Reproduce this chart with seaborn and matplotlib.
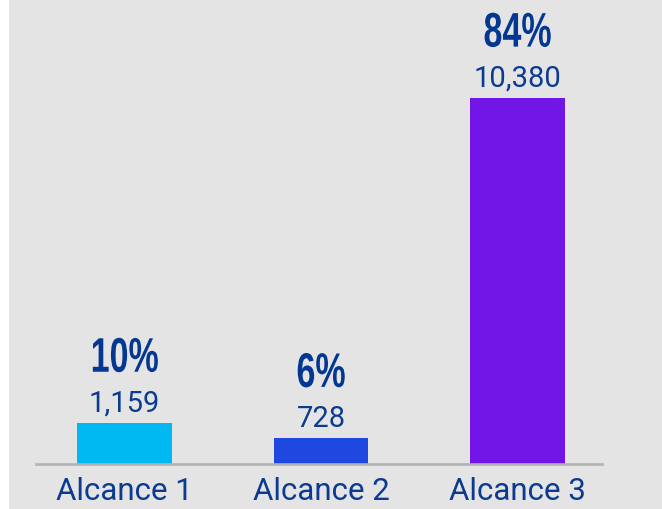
import matplotlib
matplotlib.use("Agg")
import matplotlib.pyplot as plt
from matplotlib.patches import Rectangle
from matplotlib.transforms import Affine2D
import matplotlib.patheffects as pe
import seaborn as sns
import pandas as pd

categories = ["Alcance 1", "Alcance 2", "Alcance 3"]
values = [1159, 728, 10380]
percents = ["10%", "6%", "84%"]
value_labels = ["1,159", "728", "10,380"]
colors = ["#00B9F2", "#1F48E0", "#7216E8"]

sns.set_theme(style="white")
plt.rcParams['font.family'] = ['Roboto', 'Liberation Sans', 'DejaVu Sans']

TXT = "#0b3a91"
PCT = "#033792"
BG = "#e4e4e4"


class Squeeze(pe.AbstractPathEffect):
    """Draw the text horizontally condensed around its own centre."""
    def __init__(self, sx):
        super().__init__()
        self.sx = sx

    def draw_path(self, renderer, gc, tpath, affine, rgbFace=None):
        ext = tpath.get_extents(affine)
        cx = (ext.x0 + ext.x1) / 2
        aff = affine + Affine2D().translate(-cx, 0).scale(self.sx, 1).translate(cx, 0)
        renderer.draw_path(gc, tpath, aff, rgbFace)


fig = plt.figure(figsize=(6.62, 5.10), dpi=100)
fig.patch.set_facecolor("white")
fig.patches.append(Rectangle((9 / 662, 0), 1, 1, transform=fig.transFigure,
                             facecolor=BG, edgecolor="none", zorder=-10))

ax = fig.add_axes([36 / 662, 45 / 510, (602 - 36) / 662, 465 / 510])
ax.set_facecolor("none")

df = pd.DataFrame({"cat": categories, "val": values})
sns.barplot(data=df, x="cat", y="val", hue="cat", palette=colors,
            width=0.48, legend=False, ax=ax, saturation=1, linewidth=0)

ax.set_xlim(-0.45, 2.43)
ax.set_ylim(0, 10380 * 465 / 366)

for s in ["top", "left", "right"]:
    ax.spines[s].set_visible(False)
ax.spines["bottom"].set_color("#b3b3b3")
ax.spines["bottom"].set_linewidth(1.9)
ax.spines["bottom"].set_zorder(5)
ax.set_yticks([])
ax.set_xlabel("")
ax.set_ylabel("")
ax.tick_params(axis="x", length=0, pad=9, labelsize=22.5, labelcolor=TXT)

for i, (v, p, vl) in enumerate(zip(values, percents, value_labels)):
    ax.annotate(vl, (i, v), xytext=(0, 9), textcoords="offset points",
                ha="center", va="baseline", fontsize=21, color=TXT)
    ax.annotate(p, (i, v), xytext=(0, 37), textcoords="offset points",
                ha="center", va="baseline", fontsize=35, color=PCT,
                fontweight="bold",
                family=['Liberation Sans', 'DejaVu Sans'],
                path_effects=[Squeeze(0.7)])

fig.savefig("out.png", dpi=100, facecolor=fig.get_facecolor())
